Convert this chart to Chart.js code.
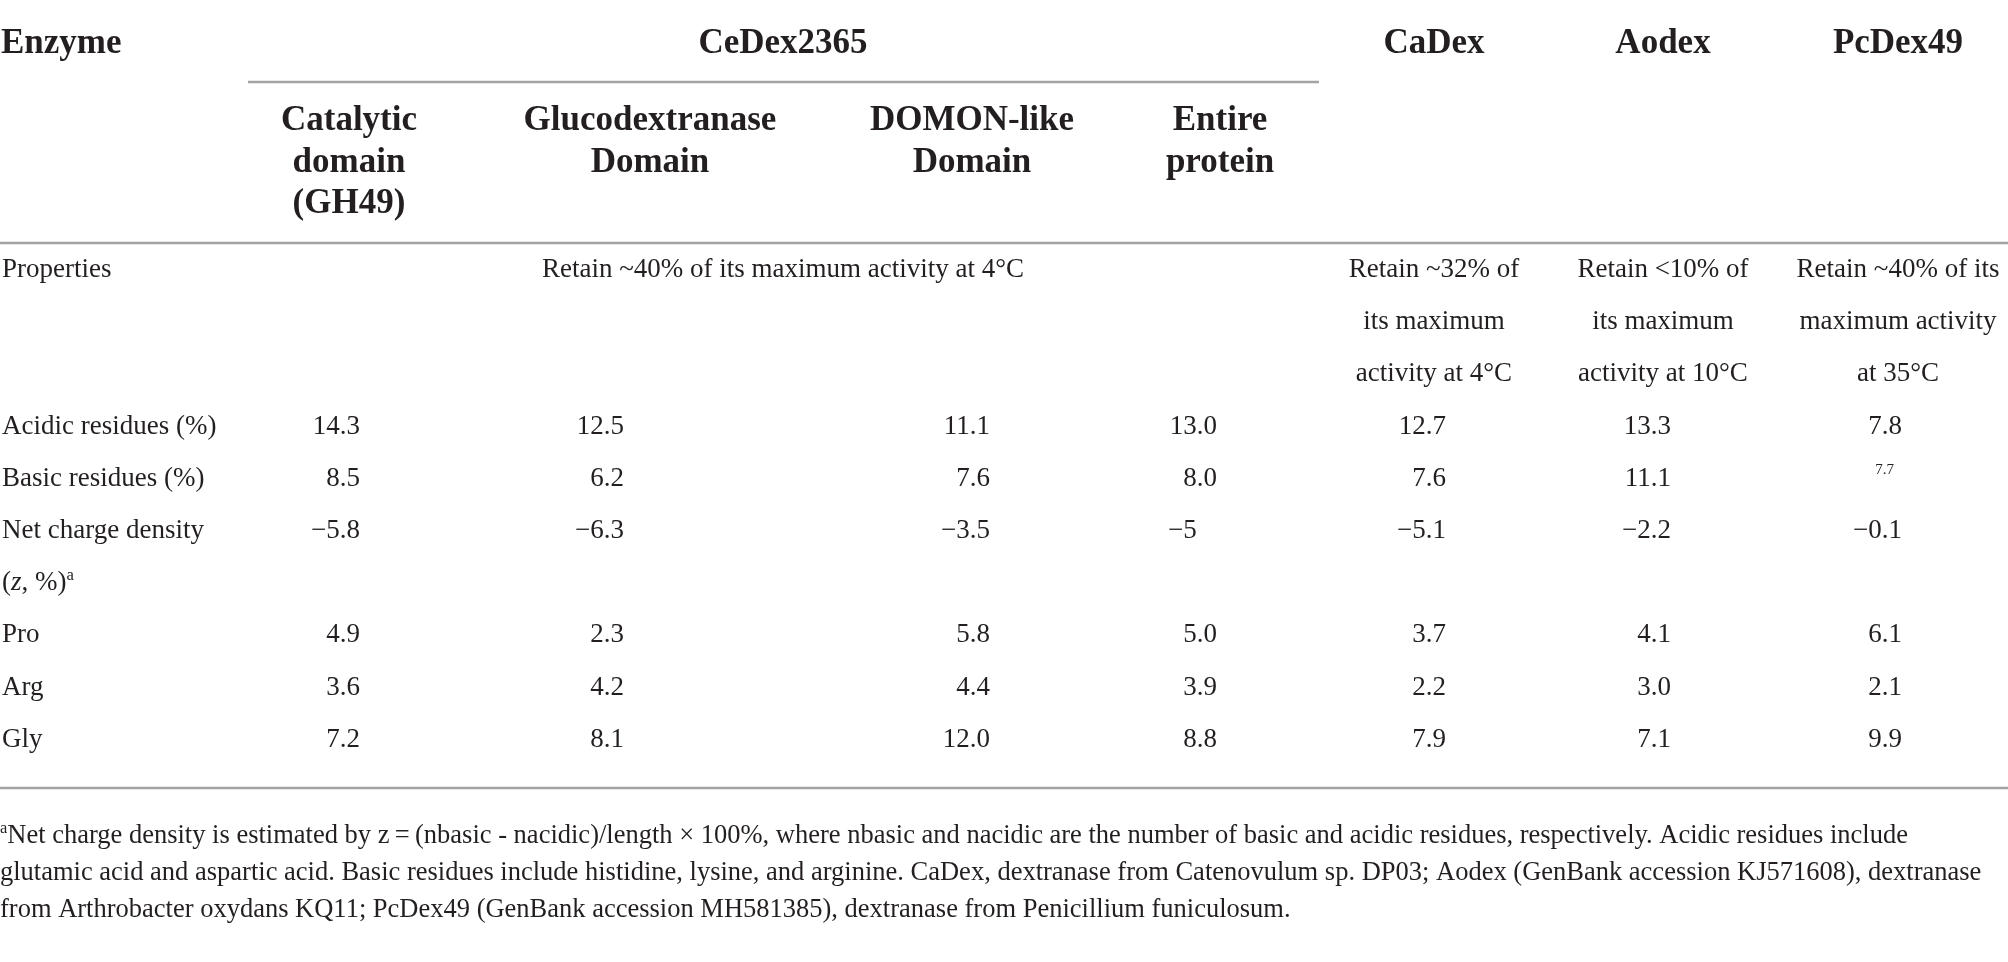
<!DOCTYPE html>
<html>
<head>
<meta charset="utf-8">
<title>Enzyme properties</title>
<script src="https://cdn.jsdelivr.net/npm/chart.js@4.4.1/dist/chart.umd.min.js"></script>
<style>
  html, body { margin: 0; padding: 0; background: #fff; }
  #wrap { width: 2008px; height: 962px; }
</style>
</head>
<body>
<div id="wrap"><canvas id="table"></canvas></div>
<script>
// ---- table content ----
const enzymes = ['CeDex2365', 'CaDex', 'Aodex', 'PcDex49'];
const domains = [
    ['Catalytic', 'domain', '(GH49)'],
    ['Glucodextranase', 'Domain'],
    ['DOMON-like', 'Domain'],
    ['Entire', 'protein']
];
const properties = [
    ['Retain ~40% of its maximum activity at 4°C'],
    ['Retain ~32% of', 'its maximum', 'activity at 4°C'],
    ['Retain <10% of', 'its maximum', 'activity at 10°C'],
    ['Retain ~40% of its', 'maximum activity', 'at 35°C']
];
// values kept as printed (one decimal, except "−5")
const acidic    = ['14.3', '12.5', '11.1', '13.0', '12.7', '13.3', '7.8'];
const basic     = ['8.5', '6.2', '7.6', '8.0', '7.6', '11.1', '7.7'];
const netCharge = ['−5.8', '−6.3', '−3.5', '−5', '−5.1', '−2.2', '−0.1'];
const pro       = ['4.9', '2.3', '5.8', '5.0', '3.7', '4.1', '6.1'];
const arg       = ['3.6', '4.2', '4.4', '3.9', '2.2', '3.0', '2.1'];
const gly       = ['7.2', '8.1', '12.0', '8.8', '7.9', '7.1', '9.9'];
const footnotes = [
    [{ t: 'a', sup: true }, { t: 'Net charge density is estimated by z\u2009=\u2009(nbasic - nacidic)/length × 100%, where nbasic and nacidic are the number of basic and acidic residues, respectively. Acidic residues include' }],
    'glutamic acid and aspartic acid. Basic residues include histidine, lysine, and arginine. CaDex, dextranase from Catenovulum sp. DP03; Aodex (GenBank accession KJ571608), dextranase',
    'from Arthrobacter oxydans KQ11; PcDex49 (GenBank accession MH581385), dextranase from Penicillium funiculosum.'
];

// ---- layout ----
const W = 2008, H = 962;
const TEXT = '#231f20';
const RULE = '#a3a3a3';
const SERIF = '"Liberation Serif", "DejaVu Serif", serif';
const colRight = [360, 624, 990, 1217, 1446, 1671, 1902];
const colCenter = [349, 650, 972, 1220, 1434, 1663, 1898];
const groupCenter = 783;
const headY = 53, subY = 130, subGap = 41.5;
const bodyY = 277, lineGap = 52.2;
const line = k => bodyY + k * lineGap;

const headStyle = { size: 35, weight: 'bold', align: 'center' };
const headLeftStyle = { size: 35, weight: 'bold', align: 'left' };
const bodyStyle = { size: 27, align: 'left' };
const centerStyle = { size: 27, align: 'center' };
const numStyle = { size: 27, align: 'decimal' };
const noteStyle = { size: 26.5, align: 'left' };

function textSet(items, style) {
    return {
        data: items.map(it => ({ x: it.x, y: it.y })),
        cells: items.map(it => it.text),
        textStyle: style,
        pointRadius: 0,
        showLine: false
    };
}

function ruleSet(x0, x1, y) {
    return {
        data: [{ x: x0, y }, { x: x1, y }],
        showLine: true,
        borderColor: RULE,
        borderWidth: 2.5,
        pointRadius: 0,
        fill: false
    };
}

const headers = [
    { x: groupCenter, y: headY, text: enzymes[0] },
    ...enzymes.slice(1).map((e, i) => ({ x: colCenter[4 + i], y: headY, text: e }))
];
const subHeaders = domains.flatMap((lines, c) =>
    lines.map((t, k) => ({ x: colCenter[c], y: subY + k * subGap, text: t })));

const rowLabels = [
    { x: 2, y: line(0), text: 'Properties' },
    { x: 2, y: line(3), text: 'Acidic residues (%)' },
    { x: 2, y: line(4), text: 'Basic residues (%)' },
    { x: 2, y: line(5), text: 'Net charge density' },
    { x: 2, y: line(6), text: [{ t: '(' }, { t: 'z', italic: true }, { t: ', %)' }, { t: 'a', sup: true }] },
    { x: 2, y: line(7), text: 'Pro' },
    { x: 2, y: line(8), text: 'Arg' },
    { x: 2, y: line(9), text: 'Gly' }
];

const propCells = properties.flatMap((lines, c) =>
    lines.map((t, k) => ({ x: c === 0 ? groupCenter : colCenter[3 + c], y: line(k), text: t })));

const valueRows = [[acidic, 3], [basic, 4], [netCharge, 5], [pro, 7], [arg, 8], [gly, 9]];
const valueCells = [];
const smallCells = [];
valueRows.forEach(([vals, k]) => {
    vals.forEach((v, c) => {
        // the PcDex49 basic-residue value is printed in a small, raised type
        if (vals === basic && c === 6) {
            smallCells.push({ x: colRight[c] - 8, y: line(k) - 12, text: v });
        } else {
            valueCells.push({ x: colRight[c], y: line(k), text: v });
        }
    });
});

const noteCells = footnotes.map((t, k) => ({ x: 0, y: 843 + k * 37, text: t }));

const datasets = [
    ruleSet(248, 1319, 82),
    ruleSet(0, W, 243),
    ruleSet(0, W, 788),
    textSet([{ x: 1, y: headY, text: 'Enzyme' }], headLeftStyle),
    textSet(headers, headStyle),
    textSet(subHeaders, headStyle),
    textSet(rowLabels, bodyStyle),
    textSet(propCells, centerStyle),
    textSet(valueCells, numStyle),
    textSet(smallCells, { size: 15, align: 'right' }),
    textSet(noteCells, noteStyle)
];

// ---- drawing cell text at the points placed by the scales ----
function fontOf(st, run) {
    const size = run && run.sup ? st.size * 0.62 : st.size;
    const style = run && run.italic ? 'italic ' : '';
    return `${style}${st.weight || 'normal'} ${size}px ${SERIF}`;
}

function drawCell(ctx, cell, x, y, st) {
    ctx.fillStyle = TEXT;
    ctx.textBaseline = 'alphabetic';
    if (typeof cell === 'string' && st.align === 'decimal') {
        ctx.font = fontOf(st);
        const [intPart, frac] = cell.split('.');
        const anchor = x - ctx.measureText('.0').width;
        ctx.textAlign = 'right';
        ctx.fillText(intPart, anchor, y);
        if (frac !== undefined) {
            ctx.textAlign = 'left';
            ctx.fillText('.' + frac, anchor, y);
        }
        return;
    }
    const runs = typeof cell === 'string' ? [{ t: cell }] : cell;
    let total = 0;
    runs.forEach(r => {
        ctx.font = fontOf(st, r);
        r.w = ctx.measureText(r.t).width;
        total += r.w;
    });
    let cx = x;
    if (st.align === 'center') cx = x - total / 2;
    if (st.align === 'right') cx = x - total;
    ctx.textAlign = 'left';
    runs.forEach(r => {
        ctx.font = fontOf(st, r);
        ctx.fillText(r.t, cx, r.sup ? y - st.size * 0.36 : y);
        cx += r.w;
    });
}

const cellText = {
    id: 'cellText',
    afterDatasetsDraw(chart) {
        const ctx = chart.ctx;
        ctx.save();
        chart.data.datasets.forEach((ds, i) => {
            if (!ds.cells) return;
            chart.getDatasetMeta(i).data.forEach((pt, j) => drawCell(ctx, ds.cells[j], pt.x, pt.y, ds.textStyle));
        });
        ctx.restore();
    }
};

new Chart(document.getElementById('table'), {
    type: 'scatter',
    data: { datasets },
    options: {
        responsive: true,
        maintainAspectRatio: false,
        devicePixelRatio: 1,
        animation: false,
        events: [],
        layout: { padding: 0 },
        scales: {
            x: { type: 'linear', display: false, min: 0, max: W },
            y: { type: 'linear', display: false, min: 0, max: H, reverse: true }
        },
        plugins: {
            legend: { display: false },
            tooltip: { enabled: false }
        }
    },
    plugins: [cellText]
});
</script>
</body>
</html>
